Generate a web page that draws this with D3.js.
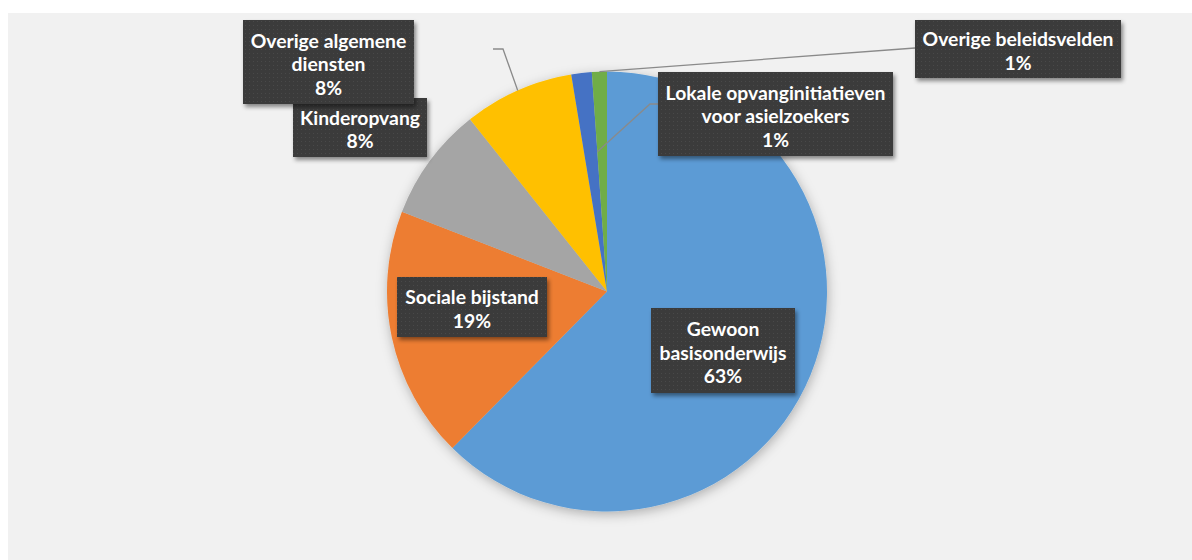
<!DOCTYPE html>
<html><head><meta charset="utf-8">
<script src="https://cdn.jsdelivr.net/npm/d3@7"></script>
<style>
html,body{margin:0;padding:0;background:#fff;}
svg{display:block;}
</style></head>
<body>
<svg id="chart" width="1192" height="560"></svg>
<script>
// ---- data ----
const categories = ["Gewoon basisonderwijs","Sociale bijstand","Kinderopvang","Overige algemene diensten","Lokale opvanginitiatieven voor asielzoekers","Overige beleidsvelden"];
const shares = [62.4, 18.5, 8.4, 8.1, 1.5, 1.1];
const percentLabels = ["63%","19%","8%","8%","1%","1%"];
const labelLines = [["Gewoon","basisonderwijs"],["Sociale bijstand"],["Kinderopvang"],["Overige algemene","diensten"],["Lokale opvanginitiatieven","voor asielzoekers"],["Overige beleidsvelden"]];
const colors = ["#5B9BD5","#ED7D31","#A5A5A5","#FFC000","#4472C4","#70AD47"];

// ---- layout ----
const W = 1192, H = 560;
const cx = 607, cy = 291.5, R = 220;
const boxes = [
  {cx:723, cy:350.5, w:144, h:85},
  {cx:472, cy:307, w:150, h:60},
  {cx:360, cy:127.5, w:134, h:59},
  {cx:328.5, cy:62, w:171, h:84},
  {cx:775.5, cy:114, w:235, h:84},
  {cx:1018, cy:49, w:206, h:58}
];

const svg = d3.select("#chart");
const defs = svg.append("defs");
const f1 = defs.append("filter").attr("id","pieShadow").attr("x","-20%").attr("y","-20%").attr("width","140%").attr("height","140%");
f1.append("feDropShadow").attr("dx",1).attr("dy",3).attr("stdDeviation",6).attr("flood-color","#000").attr("flood-opacity",0.28);
const f2 = defs.append("filter").attr("id","boxShadow").attr("x","-10%").attr("y","-10%").attr("width","130%").attr("height","140%");
f2.append("feDropShadow").attr("dx",2).attr("dy",3).attr("stdDeviation",2).attr("flood-color","#000").attr("flood-opacity",0.45);
const pat = defs.append("pattern").attr("id","dots").attr("patternUnits","userSpaceOnUse").attr("width",4).attr("height",4);
pat.append("rect").attr("width",4).attr("height",4).attr("fill","#3b3b3b");
pat.append("rect").attr("x",1).attr("y",1).attr("width",1).attr("height",1).attr("fill","#4a4a4a");

// background
svg.append("rect").attr("x",8).attr("y",13).attr("width",W-8).attr("height",H-13).attr("fill","#f1f1f1");

const pie = d3.pie().sort(null).value(d=>d.v).startAngle(0).endAngle(2*Math.PI);
const data = shares.map((v,i)=>({v, i}));
const arcs = pie(data);
const arc = d3.arc().innerRadius(0).outerRadius(R);

const g = svg.append("g").attr("transform",`translate(${cx},${cy})`);
g.append("g").attr("filter","url(#pieShadow)")
  .selectAll("path").data(arcs).join("path")
  .attr("d",arc).attr("fill",d=>colors[d.data.i]);

// point helpers (angle clockwise from 12 o'clock)
const pt = (a, r) => [cx + r*Math.sin(a), cy - r*Math.cos(a)];
const mid = d => (d.startAngle + d.endAngle)/2;

// leader lines
const leaders = [
  [pt(mid(arcs[3]), R), [503,49], [493,49]],
  [pt(arcs[4].endAngle, 140), [650,104], [659,104]],
  [pt(mid(arcs[5]), R), [915,48]]
];
svg.append("g").selectAll("path").data(leaders).join("path")
  .attr("d", d => d3.line()(d))
  .attr("fill","none").attr("stroke","#8a8a8a").attr("stroke-width",1.3);

// labels
const font = "Lato, 'Open Sans', sans-serif";
const lg = svg.append("g");
// measure font size so that a reference line fits
const probe = lg.append("text").attr("font-family",font).attr("font-weight","bold").attr("font-size",20).text("Overige beleidsvelden");
const wRef = probe.node().getComputedTextLength();
probe.remove();
const fs = Math.min(20, 20*191/wRef);

categories.forEach((c,i)=>{
  const b = boxes[i];
  lg.append("rect").attr("x",b.cx-b.w/2).attr("y",b.cy-b.h/2).attr("width",b.w).attr("height",b.h)
    .attr("fill","url(#dots)").attr("filter","url(#boxShadow)");
  const lines = labelLines[i].concat([percentLabels[i]]);
  const n = lines.length, sp = 23.5;
  const t = lg.append("text").attr("font-family",font).attr("font-weight","bold")
    .attr("font-size",fs).attr("fill","#fff").attr("text-anchor","middle");
  lines.forEach((s,k)=>{
    t.append("tspan").attr("x",b.cx).attr("y", b.cy + 9 + (k-(n-1)/2)*sp).text(s);
  });
});
</script>
</body></html>
